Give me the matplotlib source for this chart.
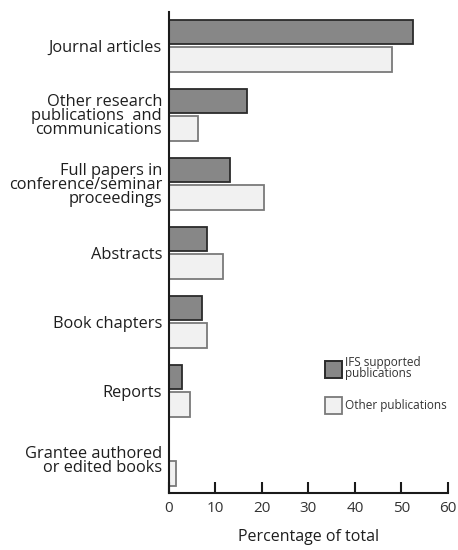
import matplotlib
matplotlib.use("Agg")
import matplotlib.pyplot as plt
from matplotlib.patches import Patch
import numpy as np

categories = [
    "Journal articles",
    "Other research\npublications  and\ncommunications",
    "Full papers in\nconference/seminar\nproceedings",
    "Abstracts",
    "Book chapters",
    "Reports",
    "Grantee authored\nor edited books",
]
ifs_supported = [52.5, 16.7, 13.1, 8.2, 7.0, 2.7, 0.0]
other_pubs = [48.0, 6.3, 20.4, 11.6, 8.1, 4.6, 1.4]
xticks = [0, 10, 20, 30, 40, 50, 60]

plt.rcParams['font.family'] = ['Open Sans', 'DejaVu Sans']
txt = '#1e1e1e'

fig = plt.figure(figsize=(4.58, 5.5), dpi=100)
ax = fig.add_axes([0.369, 0.1036, 0.609, 0.8746])

y = np.arange(len(categories))
h = 0.36
off = 0.2
ax.barh(y - off, ifs_supported, height=h, color='#878787', edgecolor='#2b2b2b',
        linewidth=1.3)
ax.barh(y + off, other_pubs, height=h, color='#f1f1f1', edgecolor='#7a7a7a',
        linewidth=1.3)

ax.set_ylim(6.48, -0.49)
ax.set_xlim(0, 60)
ax.set_yticks(y)
ax.set_yticklabels(categories, fontsize=11.8, color=txt, linespacing=0.84)
ax.tick_params(axis='y', length=0, pad=5)
ax.set_xticks(xticks)
ax.set_xticklabels([str(t) for t in xticks], fontsize=11, color='#333333')
ax.tick_params(axis='x', direction='in', length=8, width=1.5, pad=6, color='#1a1a1a')
for s in ['top', 'right']:
    ax.spines[s].set_visible(False)
for s in ['left', 'bottom']:
    ax.spines[s].set_linewidth(1.5)
    ax.spines[s].set_color('#1a1a1a')
ax.set_xlabel('Percentage of total', fontsize=11.5, color=txt, labelpad=9)

handles = [Patch(facecolor='#878787', edgecolor='#2b2b2b', linewidth=1.4),
           Patch(facecolor='#f1f1f1', edgecolor='#7a7a7a', linewidth=1.3)]
ax.legend(handles, ['IFS supported\npublications', 'Other publications'],
          loc='upper left', bbox_to_anchor=(0.559, 0.285), frameon=False,
          fontsize=8.5, handlelength=1.41, handleheight=1.9, handletextpad=0.3,
          labelspacing=1.4, borderaxespad=0, borderpad=0)
for t in ax.get_legend().get_texts():
    t.set_color('#333333')
    t.set_linespacing(0.85)

fig.savefig('out.png', dpi=100)
